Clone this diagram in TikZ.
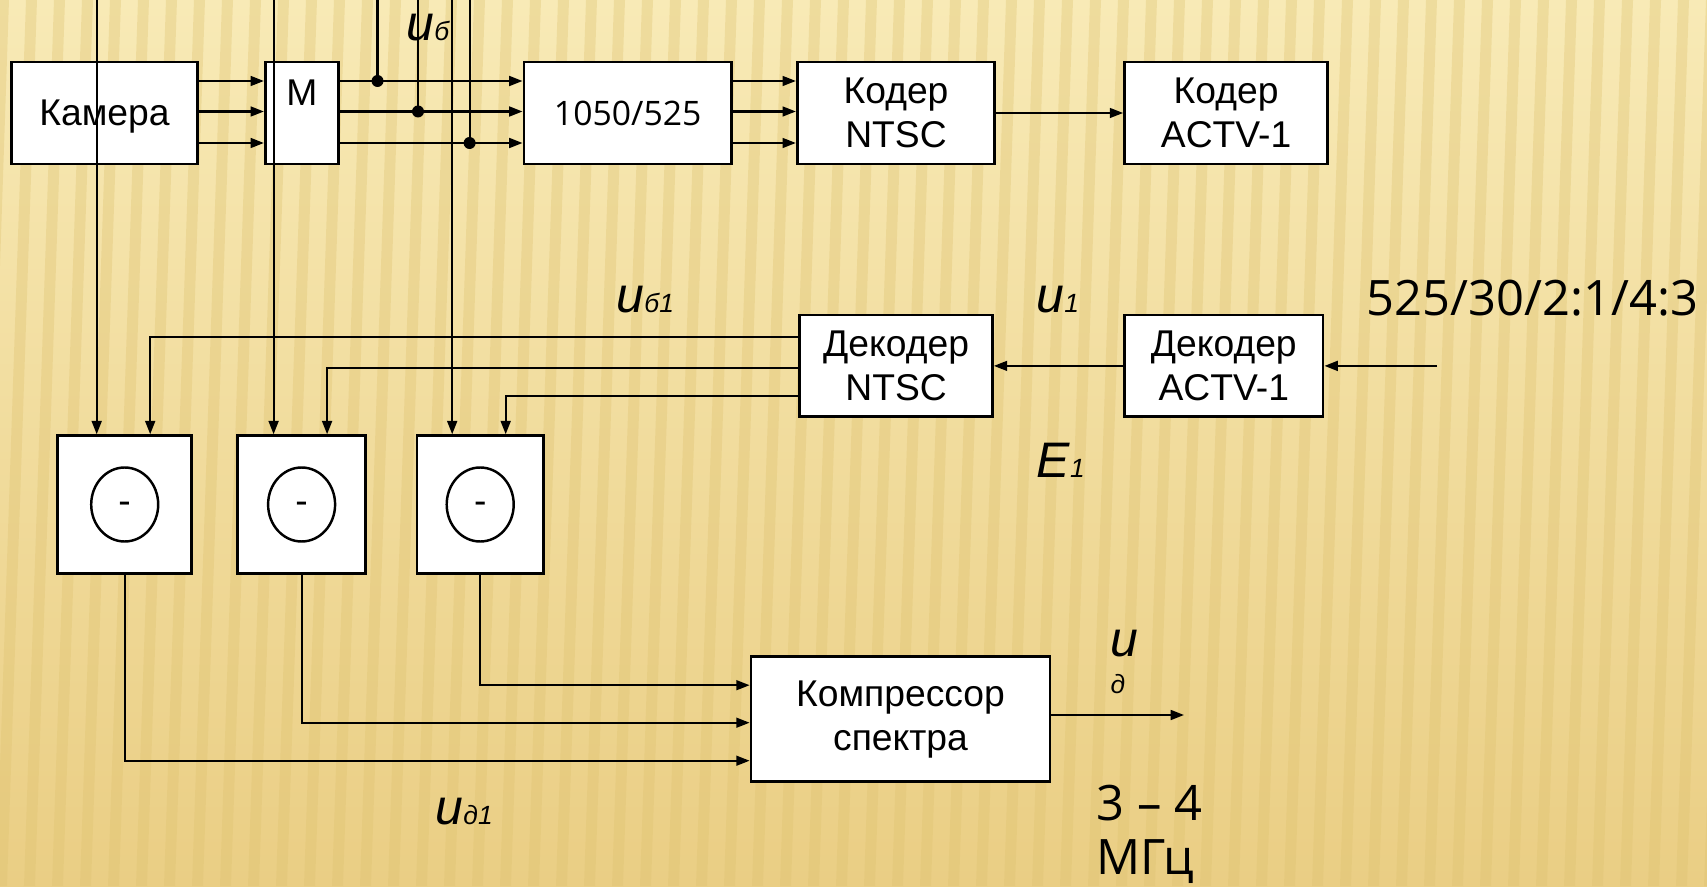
\documentclass[tikz,border=0pt]{standalone}
\usepackage{fontspec}
\setmainfont{Liberation Sans}
\newfontfamily\opensans{Open Sans}
\usetikzlibrary{shapes.geometric, arrows.meta, calc}
\definecolor{slidetop}{RGB}{248,234,182}
\definecolor{slidelow}{RGB}{234,206,132}
\definecolor{slidestripe}{RGB}{222,194,112}
\tikzstyle{block} = [
    rectangle,
    draw=black,
    line width=0.8pt,
    fill=white,
    text centered,
    align=center,
    inner sep=0pt,
    font=\fontsize{10.6}{12.6}\selectfont
]
\tikzstyle{subbox} = [block, minimum height=1.376cm]
\tikzstyle{arrow} = [
    line width=0.6pt,
    ->,
    >={Triangle[length=3.8pt, width=2.8pt]}
]
\tikzstyle{wire} = [line width=0.6pt]
\tikzstyle{sig} = [anchor=base west, inner sep=0pt, font=\fontsize{14.2}{17}\selectfont\itshape]
\tikzstyle{bigtext} = [anchor=base west, inner sep=0pt, align=left, font=\opensans\fontsize{13.9}{15.2}\selectfont]
\newcommand{\sigidx}[1]{{\fontsize{7.5}{9}\selectfont #1}}

\begin{document}
\begin{tikzpicture}
        % Background
        \useasboundingbox (0,0) rectangle (17.07,8.86);
        \shade[top color=slidetop, bottom color=slidelow] (0,0) rectangle (17.07,8.86);
        \begin{scope}
            \clip (0,0) rectangle (17.07,8.86);
            \foreach \x in {-0.6,-0.32,...,17.1}
                \fill[slidestripe, opacity=0.35] (\x,0) -- ++(0.11,0) -- ++(0.3,8.86) -- ++(-0.11,0) -- cycle;
        \end{scope}

        % Top row
        \node[block, minimum width=1.856cm, minimum height=1.02cm, text depth=0pt] (cam) at (1.045,7.73) {Камера};
        \node[block, minimum width=0.732cm, minimum height=1.02cm] (mux) at (3.019,7.73) {};
        \node[anchor=north, inner sep=0pt, font=\fontsize{10.6}{12.6}\selectfont] (muxtxt) at ([yshift=-0.19cm]mux.north) {M};
        \node[block, minimum width=2.075cm, minimum height=1.02cm, font=\opensans\fontsize{9.6}{11}\selectfont] (conv) at (6.277,7.73) {1050/525};
        \node[block, minimum width=1.975cm, minimum height=1.02cm] (kntsc) at (8.96,7.73) {Кодер\\NTSC};
        \node[block, minimum width=2.032cm, minimum height=1.02cm] (kactv) at (12.261,7.73) {Кодер\\ACTV-1};

        % Middle row
        \node[block, minimum width=1.927cm, minimum height=1.017cm] (dntsc) at (8.961,5.201) {Декодер\\NTSC};
        \node[block, minimum width=1.984cm, minimum height=1.017cm] (dactv) at (12.238,5.201) {Декодер\\ACTV-1};

        % Subtractors
        \node[subbox, minimum width=1.339cm] (sub1) at (1.247,3.815) {};
        \node[subbox, minimum width=1.285cm] (sub2) at (3.016,3.815) {};
        \node[subbox, minimum width=1.263cm] (sub3) at (4.802,3.815) {};
        \foreach \i in {1,2,3}
            \node[ellipse, draw, line width=0.7pt, minimum width=0.67cm, minimum height=0.74cm, inner sep=0pt, text height=0.5em, text depth=0pt, font=\fontsize{10.6}{12.6}\selectfont] (diff\i) at (sub\i) {-};

        % Compressor
        \node[block, minimum width=2.99cm, minimum height=1.25cm] (comp) at (9.005,1.668) {Компрессор\\спектра};

        % Arrows
        \foreach \dy [count=\r] in {3.2mm,0.15mm,-3mm} {
            \coordinate (row\r) at ([yshift=\dy]mux.east);
            \draw[arrow] ([yshift=\dy]cam.east) -- ([yshift=\dy]mux.west);
            \draw[arrow] ([yshift=\dy]mux.east) -- ([yshift=\dy]conv.west);
            \draw[arrow] ([yshift=\dy]conv.east) -- ([yshift=\dy]kntsc.west);
        }
        \draw[arrow] (kntsc) -- (kactv);

        % Taps
        \coordinate (tapa) at (3.775,8.86);
        \coordinate (tapb) at (4.18,8.86);
        \coordinate (tapc) at (4.696,8.86);
        \draw[wire] (tapa) -- (tapa |- row1);
        \draw[wire] (tapb) -- (tapb |- row2);
        \draw[wire] (tapc) -- (tapc |- row3);
        \fill (tapa |- row1) circle (0.06);
        \fill (tapb |- row2) circle (0.06);
        \fill (tapc |- row3) circle (0.06);

        % Into subtractors
        \foreach \i in {1,2,3} {
            \coordinate (top\i) at ([xshift=-2.8mm]sub\i.north);
            \draw[arrow] (top\i |- 0,8.86) -- (top\i);
        }
        \coordinate (src) at (14.37,5.201);
        \draw[arrow] (src) -- (dactv);
        \draw[arrow] (dactv) -- (dntsc);
        \draw[arrow] ([yshift=2.9mm]dntsc.west) -| ([xshift=2.55mm]sub1.north);
        \draw[arrow] ([yshift=-0.2mm]dntsc.west) -| ([xshift=2.55mm]sub2.north);
        \draw[arrow] ([yshift=-3mm]dntsc.west) -| ([xshift=2.55mm]sub3.north);

        % Into compressor
        \draw[arrow] (sub3.south) |- ([yshift=3.4mm]comp.west);
        \draw[arrow] (sub2.south) |- ([yshift=-0.35mm]comp.west);
        \draw[arrow] (sub1.south) |- ([yshift=-4.15mm]comp.west);
        \coordinate (out) at (11.84,1.71);
        \draw[arrow] (comp.east |- out) -- (out);

        % Labels
        \node[sig] (ub) at (4.06,8.45) {u\sigidx{б}};
        \node[sig] (ub1) at (6.16,5.73) {u\sigidx{б1}};
        \node[sig] (u1) at (10.36,5.73) {u\sigidx{1}};
        \node[sig] (e1) at (10.36,4.09) {E\sigidx{1}};
        \node[sig, align=left] (ud) at (11.10,1.93) {u\\[-6.5pt]\sigidx{д}};
        \node[sig] (ud1) at (4.35,0.62) {u\sigidx{д1}};
        \node[bigtext] (fmt) at (13.66,5.703) {525/30/2:1/4:3};
        \node[bigtext] (band) at (10.96,0.12) {3 – 4\\МГц};
    \end{tikzpicture}
\end{document}
